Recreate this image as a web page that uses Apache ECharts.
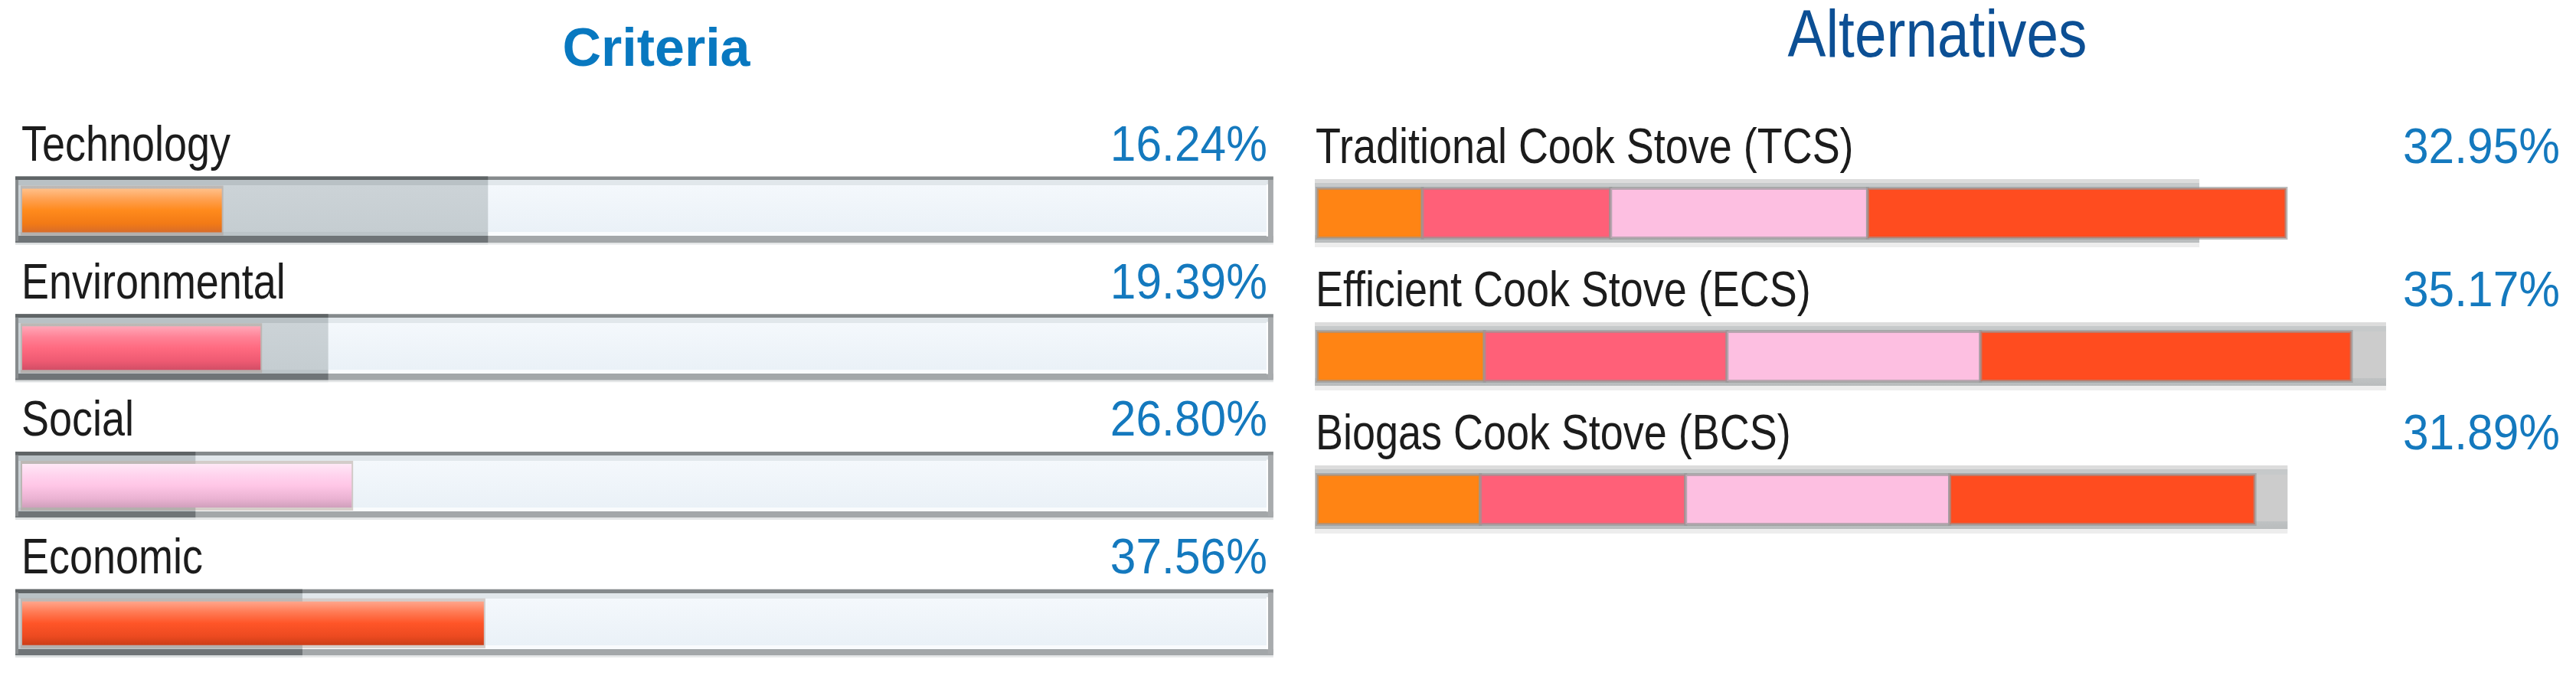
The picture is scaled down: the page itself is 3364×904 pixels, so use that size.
<!DOCTYPE html>
<html>
<head>
<meta charset="utf-8">
<script src="https://cdn.jsdelivr.net/npm/echarts@6/dist/echarts.min.js"></script>
<style>
html,body{margin:0;padding:0;background:#fff;}
#chart{width:3364px;height:904px;}
</style>
</head>
<body>
<div id="chart"></div>
<script>
// ---- data ----
const criteria = ['Technology', 'Environmental', 'Social', 'Economic'];
const criteriaWeights = [16.24, 19.39, 26.80, 37.56];
const criteriaGhost = [37.9, 24.9, 14.1, 22.8];

const alternatives = ['Traditional Cook Stove (TCS)', 'Efficient Cook Stove (ECS)', 'Biogas Cook Stove (BCS)'];
const altScores = [32.95, 35.17, 31.89];
const altGhost = [30.0, 36.35, 33.0];
const techContrib = [3.58, 5.69, 5.55];
const envContrib = [6.40, 8.25, 6.98];
const socContrib = [8.74, 8.62, 8.98];
const ecoContrib = [14.23, 12.61, 10.38];

// ---- styles ----
const LABEL_FONT = '65px "Liberation Sans", Arial, sans-serif';
const NAME_SX = 0.83;
const PCT_SX = 0.93;
const TITLE_BLUE = '#0878c0';
const PCT_BLUE = '#1479be';
const TEXT_DARK = '#1c1c1c';
const TRACK_END = 101.8;
const LABEL_DY = -83;
const G = echarts.graphic.LinearGradient;

const fillGradients = [
  ['#ffc08a', '#ffa050', '#ff8a1c', '#f27a16', '#d86c2a'],
  ['#ffa8b8', '#ff8296', '#ff6a80', '#ee5a72', '#d24e66'],
  ['#ffe8f6', '#ffd4ee', '#ffc6e6', '#eab2d2', '#d0a0bc'],
  ['#ffa68c', '#ff7a54', '#ff5528', '#ec4a20', '#cc3e18']
];
const segColors = ['#ff8414', '#ff6078', '#fdbfe1', '#ff4c1f'];

function vgrad(stops) {
  return new G(0, 0, 0, 1, stops.map(s => ({offset: s[0], color: s[1]})));
}

const trackGrad = vgrad([[0, '#858a8c'], [0.056, '#858a8c'], [0.057, '#e1e7eb'], [0.135, '#e1e7eb'], [0.136, '#f4f8fc'], [0.82, '#eaf1f7'], [0.821, '#f9fbfd'], [0.876, '#f9fbfd'], [0.877, '#a3a7a9'], [0.97, '#a3a7a9'], [0.971, '#e4e6e7'], [1, '#e4e6e7']]);
const ghostGrad = vgrad([[0, '#5f6466'], [0.056, '#5f6466'], [0.057, '#b9c1c5'], [0.135, '#b9c1c5'], [0.136, '#ccd3d7'], [0.82, '#c5cdd1'], [0.821, '#bcc4c8'], [0.876, '#bcc4c8'], [0.877, '#6f7477'], [0.97, '#6f7477'], [0.971, '#dcdfe0'], [1, '#dcdfe0']]);
const altTrackGrad = vgrad([[0, '#dcdcdc'], [0.06, '#dcdcdc'], [0.061, '#c6c9ca'], [0.135, '#c6c9ca'], [0.136, '#cccccc'], [0.82, '#cccccc'], [0.821, '#bfc2c3'], [0.93, '#b9bcbd'], [0.931, '#ededed'], [1, '#ededed']]);

function textEl(text, x, y, align, font, color, sx) {
  return {
    type: 'text',
    x: x, y: y, scaleX: sx, scaleY: 1,
    style: {text: text, x: 0, y: 0, align: align, textAlign: align, verticalAlign: 'middle', textVerticalAlign: 'middle', font: font, fill: color}
  };
}

function renderCriteria(params, api) {
  const w = api.value(0), i = api.value(1), g = api.value(2);
  const c = api.coord([0, i]);
  const x0 = c[0], y = c[1];
  const xEnd = api.coord([TRACK_END, i])[0];
  const xG = api.coord([g, i])[0];
  const xW = api.coord([w, i])[0];
  const tx = x0 - 9;
  const grads = fillGradients[i];
  const fill = vgrad([[0, grads[0]], [0.25, grads[1]], [0.5, grads[2]], [0.8, grads[3]], [1, grads[4]]]);
  return {
    type: 'group',
    children: [
      {type: 'rect', shape: {x: tx, y: y - 44.5, width: xEnd - tx, height: 89}, style: {fill: trackGrad}},
      {type: 'rect', shape: {x: xEnd - 7, y: y - 40, width: 7, height: 80}, style: {fill: '#a8abad'}},
      {type: 'rect', shape: {x: xEnd - 9, y: y - 34, width: 2, height: 68}, style: {fill: '#ffffff'}},
      {type: 'rect', shape: {x: tx, y: y - 44.5, width: xG - tx, height: 89}, style: {fill: ghostGrad}},
      {type: 'rect', shape: {x: tx, y: y - 40, width: 4, height: 80}, style: {fill: '#878b8d'}},
      {type: 'rect', shape: {x: x0 - 2, y: y - 32.5, width: xW - x0 + 4, height: 65}, style: {fill: 'rgba(170,150,140,0.45)'}},
      {type: 'rect', shape: {x: x0, y: y - 28.5, width: xW - x0, height: 57}, style: {fill: fill}},
      textEl(criteria[i], x0 - 1, y + LABEL_DY, 'left', LABEL_FONT, TEXT_DARK, NAME_SX),
      textEl(criteriaWeights[i].toFixed(2) + '%', xEnd - 8, y + LABEL_DY, 'right', LABEL_FONT, PCT_BLUE, PCT_SX)
    ]
  };
}

function renderAltTrack(params, api) {
  const g = api.value(0), j = api.value(1);
  const c = api.coord([0, j]);
  const x0 = c[0], y = c[1];
  const xG = api.coord([g, j])[0];
  return {
    type: 'group',
    children: [
      {type: 'rect', shape: {x: x0 - 3, y: y - 44.5, width: xG - x0 + 3, height: 89}, style: {fill: altTrackGrad}},
      textEl(alternatives[j], x0 - 2, y + LABEL_DY, 'left', LABEL_FONT, TEXT_DARK, NAME_SX),
      textEl(altScores[j].toFixed(2) + '%', api.getWidth() - 21, y + LABEL_DY, 'right', LABEL_FONT, PCT_BLUE, PCT_SX)
    ]
  };
}

function makeSegRender(k) {
  return function (params, api) {
    const end = api.value(0), j = api.value(1), start = api.value(2);
    const a = api.coord([start, j]);
    const b = api.coord([end, j]);
    const y = a[1];
    return {
      type: 'rect',
      shape: {x: a[0], y: y - 32.5, width: b[0] - a[0], height: 65},
      style: {fill: segColors[k], stroke: 'rgba(150,150,150,0.65)', lineWidth: 4}
    };
  };
}

const contribs = [techContrib, envContrib, socContrib, ecoContrib];
const cum = alternatives.map(() => 0);
const segSeries = contribs.map((arr, k) => {
  const data = arr.map((v, j) => {
    const s = cum[j];
    cum[j] += v;
    return [s + v, j, s];
  });
  return {
    type: 'custom', name: criteria[k], xAxisIndex: 1, yAxisIndex: 1,
    renderItem: makeSegRender(k), data: data, encode: {x: [0, 2], y: 1}, z: 3, clip: false
  };
});

const chart = echarts.init(document.getElementById('chart'), null, {renderer: 'canvas'});
chart.setOption({
  animation: false,
  backgroundColor: '#ffffff',
  graphic: [
    {type: 'text', x: 857, y: 67, style: {text: 'Criteria', x: 0, y: 0, align: 'center', textAlign: 'center', verticalAlign: 'middle', textVerticalAlign: 'middle', font: 'bold 70px "Liberation Sans", Arial, sans-serif', fill: TITLE_BLUE}},
    {type: 'text', x: 2530, y: 50, scaleX: 0.85, style: {text: 'Alternatives', x: 0, y: 0, align: 'center', textAlign: 'center', verticalAlign: 'middle', textVerticalAlign: 'middle', font: '88px "Liberation Sans", Arial, sans-serif', fill: '#0c4f94'}}
  ],
  grid: [
    {left: 29, width: 1605, top: 185, height: 748},
    {left: 1720, width: 1613, top: 185, height: 561}
  ],
  xAxis: [
    {type: 'value', gridIndex: 0, min: 0, max: 100, show: false},
    {type: 'value', gridIndex: 1, min: 0, max: 42, show: false}
  ],
  yAxis: [
    {type: 'category', gridIndex: 0, data: criteria, inverse: true, show: false},
    {type: 'category', gridIndex: 1, data: alternatives, inverse: true, show: false}
  ],
  series: [
    {
      type: 'custom', name: 'Criteria', xAxisIndex: 0, yAxisIndex: 0, clip: false,
      renderItem: renderCriteria,
      data: criteria.map((n, i) => [criteriaWeights[i], i, criteriaGhost[i]]),
      encode: {x: 0, y: 1}
    },
    {
      type: 'custom', name: 'AltTrack', xAxisIndex: 1, yAxisIndex: 1, clip: false, z: 2,
      renderItem: renderAltTrack,
      data: alternatives.map((n, j) => [altGhost[j], j]),
      encode: {x: 0, y: 1}
    }
  ].concat(segSeries)
});
</script>
</body>
</html>
